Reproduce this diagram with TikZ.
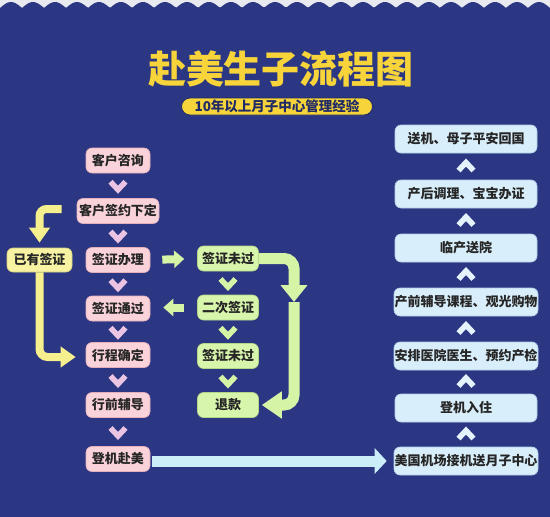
\documentclass[tikz,border=0pt]{standalone}
\usepackage{fontspec}
\setmainfont{Noto Sans CJK SC}
\usetikzlibrary{arrows.meta,calc}
\definecolor{navy}{HTML}{2B3783}
\definecolor{topwhite}{HTML}{E9EAF0}
\definecolor{pinkfill}{HTML}{F9D3D9}
\definecolor{pinkline}{HTML}{E3AFBB}
\definecolor{greenfill}{HTML}{D8F5AC}
\definecolor{greenline}{HTML}{B2D688}
\definecolor{bluefill}{HTML}{D8EEFA}
\definecolor{blueline}{HTML}{AECFE6}
\definecolor{yfill}{HTML}{F8F3A2}
\definecolor{yline}{HTML}{D6CE7E}
\definecolor{yarrowc}{HTML}{F6EF8E}
\definecolor{garrowc}{HTML}{D6F4A6}
\definecolor{barrowc}{HTML}{CCEEF8}
\definecolor{chpink}{HTML}{EBC3E3}
\definecolor{chgreen}{HTML}{D6F4A6}
\definecolor{chblue}{HTML}{E4F3FC}
\definecolor{titleyellow}{HTML}{F7D43A}
\definecolor{txtdark}{HTML}{262626}
\definecolor{subtext}{HTML}{1F2A66}
\begin{document}
\begin{tikzpicture}[x=1pt,y=-1pt,
  box/.style={rounded corners=6pt, minimum height=25pt, inner sep=2pt,
    font=\bfseries\fontsize{13pt}{13.5pt}\selectfont, text=txtdark, line width=0.6pt},
  pinkbox/.style={box, fill=pinkfill, draw=pinkline, minimum width=64pt, inner xsep=2pt},
  greenbox/.style={box, fill=greenfill, draw=greenline, minimum width=61pt},
  bluebox/.style={box, fill=bluefill, draw=blueline, minimum width=142pt, minimum height=28pt, inner xsep=0.5pt},
  yellowbox/.style={box, fill=yfill, draw=yline, minimum width=65pt, minimum height=24pt},
  yarr/.style={draw=yarrowc, line width=8pt},
  gsmall/.style={draw=garrowc, line width=8pt, -{Triangle[width=17pt,length=10pt]}},
  gbig/.style={draw=garrowc, line width=11pt},
  barr/.style={draw=barrowc, line width=11pt},
  chevdown/.pic={\draw[line width=5.5pt] (-7.5,-4) -- (0,4) -- (7.5,-4);},
  chevup/.pic={\draw[line width=5.5pt] (-7.5,4) -- (0,-4) -- (7.5,4);}
]
\useasboundingbox (0,0) rectangle (550,517);
% background with scalloped top
\fill[topwhite] (0,0) rectangle (550,517);
\fill[navy] (0,517) -- (0,8) -- plot[domain=0:550, samples=300] (\x,{8-6*abs(sin(\x/22*180))}) -- (550,517) -- cycle;

% title
\node[font=\bfseries\fontsize{38pt}{40pt}\selectfont, text=titleyellow] (title) at (281,69) {赴美生子流程图};
\node[draw=subtext, line width=0.8pt, fill=titleyellow, rounded corners=8.5pt, minimum width=191pt, minimum height=17pt,
  inner sep=0pt, font=\bfseries\fontsize{13.5pt}{14pt}\selectfont, text=subtext] (sub) at (277,106.5) {10年以上月子中心管理经验};

% left pink column
\node[pinkbox] (p1) at (118,160.5) {客户咨询};
\node[pinkbox] (p2) at (118,211) {客户签约下定};
\node[pinkbox] (p3) at (118,260) {签证办理};
\node[pinkbox] (p4) at (118,308.5) {签证通过};
\node[pinkbox] (p5) at (118,355) {行程确定};
\node[pinkbox] (p6) at (118,405) {行前辅导};
\node[pinkbox] (p7) at (118,459) {登机赴美};

% yellow node
\node[yellowbox] (y1) at (39.5,260) {已有签证};

% green column
\node[greenbox] (g1) at (228,258.5) {签证未过};
\node[greenbox] (g2) at (228,307.5) {二次签证};
\node[greenbox] (g3) at (228,356) {签证未过};
\node[greenbox] (g4) at (228,405) {退款};

% blue column
\node[bluebox] (b1) at (466,139) {送机、母子平安回国};
\node[bluebox] (b2) at (466,194) {产后调理、宝宝办证};
\node[bluebox] (b3) at (466,248) {临产送院};
\node[bluebox] (b4) at (466,302) {产前辅导课程、观光购物};
\node[bluebox] (b5) at (466,356) {安排医院医生、预约产检};
\node[bluebox] (b6) at (466,408) {登机入住};
\node[bluebox] (b7) at (466,461) {美国机场接机送月子中心};

% chevrons pink
\foreach \a/\b in {p1/p2,p2/p3,p3/p4,p4/p5,p5/p6,p6/p7}
  \pic[color=chpink] at ($(\a.south)!0.5!(\b.north)$) {chevdown};
% chevrons green
\foreach \a/\b in {g1/g2,g2/g3,g3/g4}
  \pic[color=chgreen] at ($(\a.south)!0.5!(\b.north)$) {chevdown};
% chevrons blue
\foreach \a/\b in {b1/b2,b2/b3,b3/b4,b4/b5,b5/b6,b6/b7}
  \pic[color=chblue] at ($(\a.south)!0.5!(\b.north)$) {chevup};

% yellow arrows
\draw[yarr, rounded corners=7pt, -{Triangle[width=20pt,length=15pt]}, shorten >=5pt]
  ($(p2.west)+(-15,-2)$) -| (y1.north);
\draw[yarr, rounded corners=8pt, -{Triangle[width=20pt,length=15pt]}, shorten >=10pt]
  (y1.south) |- ($(p5.west)+(0,2)$);

% green small arrows
\draw[gsmall, shorten <=12pt, shorten >=13pt] (p3.east) -- (g1.west);
\draw[gsmall, shorten <=13pt, shorten >=13pt] (g2.west) -- (g2.west -| p4.east);

% green big bent arrow
\coordinate (gM) at (294,302);
\draw[gbig, rounded corners=10pt, -{Triangle[width=26pt,length=17pt]}] (g1.east) -| (gM);
\draw[gbig, rounded corners=10pt, -{Triangle[width=26pt,length=20pt]}, shorten >=3pt] (gM) |- (g4.east);

% bottom blue arrow
\draw[barr, -{Triangle[width=25pt,length=12pt]}, shorten <=2pt, shorten >=7pt]
  ($(p7.east)+(0,2)$) -- ($(p7.east -| b7.west)+(0,2)$);
\end{tikzpicture}
\end{document}
